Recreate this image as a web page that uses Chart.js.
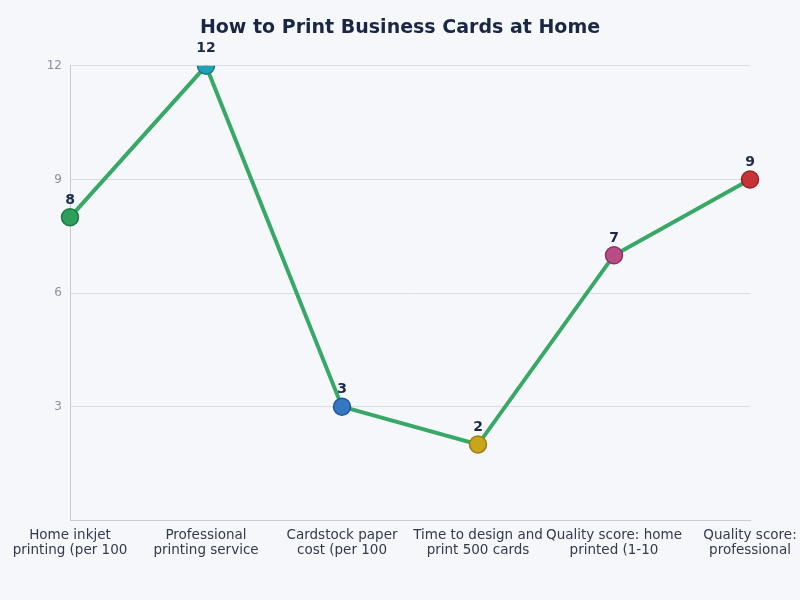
<!DOCTYPE html>
<html>
<head>
<meta charset="utf-8">
<script src="https://cdn.jsdelivr.net/npm/chart.js@4.4.0/dist/chart.umd.min.js"></script>
<style>
  html, body { margin: 0; padding: 0; background: #f5f7fb; }
  #wrap { width: 800px; height: 600px; }
</style>
</head>
<body>
<div id="wrap"><canvas id="myChart" width="800" height="600"></canvas></div>
<script>
const labels = [
    ['Home inkjet', 'printing (per 100'],
    ['Professional', 'printing service'],
    ['Cardstock paper', 'cost (per 100'],
    ['Time to design and', 'print 500 cards'],
    ['Quality score: home', 'printed (1-10'],
    ['Quality score:', 'professional']
];
const values = [8, 12, 3, 2, 7, 9];
const pointColors = ['#2e9e5b', '#22a0b4', '#3478c2', '#c9a51e', '#b84d86', '#c73438'];
const pointBorders = ['#1d7a42', '#17798a', '#21579a', '#9a7d12', '#8e3464', '#9a2226'];
const yTicks = [3, 6, 9, 12];

// draws the value above each point
const valueLabels = {
    id: 'valueLabels',
    afterDatasetsDraw(chart) {
        const ctx = chart.ctx;
        const meta = chart.getDatasetMeta(0);
        ctx.save();
        ctx.font = 'bold 14px "DejaVu Sans"';
        ctx.fillStyle = '#1f2a44';
        ctx.textAlign = 'center';
        ctx.textBaseline = 'bottom';
        meta.data.forEach(function (pt, i) {
            ctx.fillText(values[i], pt.x, pt.y - 10);
        });
        ctx.restore();
    }
};

const data = {
    labels: labels,
    datasets: [{
        data: values,
        borderColor: '#38a866',
        borderWidth: 4,
        pointBackgroundColor: pointColors,
        pointBorderColor: pointBorders,
        pointBorderWidth: 1.5,
        pointRadius: 8.5,
        tension: 0,
        fill: false
    }]
};

const config = {
    type: 'line',
    data: data,
    plugins: [valueLabels],
    options: {
        responsive: false,
        animation: false,
        layout: { padding: { left: 13, right: 13, top: 10, bottom: 42 } },
        plugins: {
            legend: { display: false },
            tooltip: { enabled: false },
            title: {
                display: true,
                text: 'How to Print Business Cards at Home',
                color: '#1a2744',
                font: { family: 'DejaVu Sans', size: 19, weight: 'bold' },
                padding: { top: 7, bottom: 26 }
            }
        },
        scales: {
            x: {
                grid: { display: false },
                border: { color: '#c8ccd6' },
                afterFit(axis) { axis.paddingRight = 50; },
                ticks: {
                    color: '#333a4c',
                    padding: 0,
                    font: { family: 'DejaVu Sans', size: 13.5, lineHeight: 1.1 },
                    maxRotation: 0,
                    autoSkip: false
                }
            },
            y: {
                min: 0,
                max: 12,
                grid: { color: '#d9dce4', drawTicks: false },
                border: { color: '#c8ccd6' },
                afterBuildTicks(axis) {
                    axis.ticks = [0].concat(yTicks).map(function (v) { return { value: v }; });
                },
                afterFit(axis) { axis.width = 57; },
                ticks: {
                    color: '#8a8fa3',
                    padding: 8,
                    font: { family: 'DejaVu Sans', size: 12 },
                    callback: function (v) { return v === 0 ? '' : v; }
                }
            }
        }
    }
};

new Chart(document.getElementById('myChart'), config);
</script>
</body>
</html>
